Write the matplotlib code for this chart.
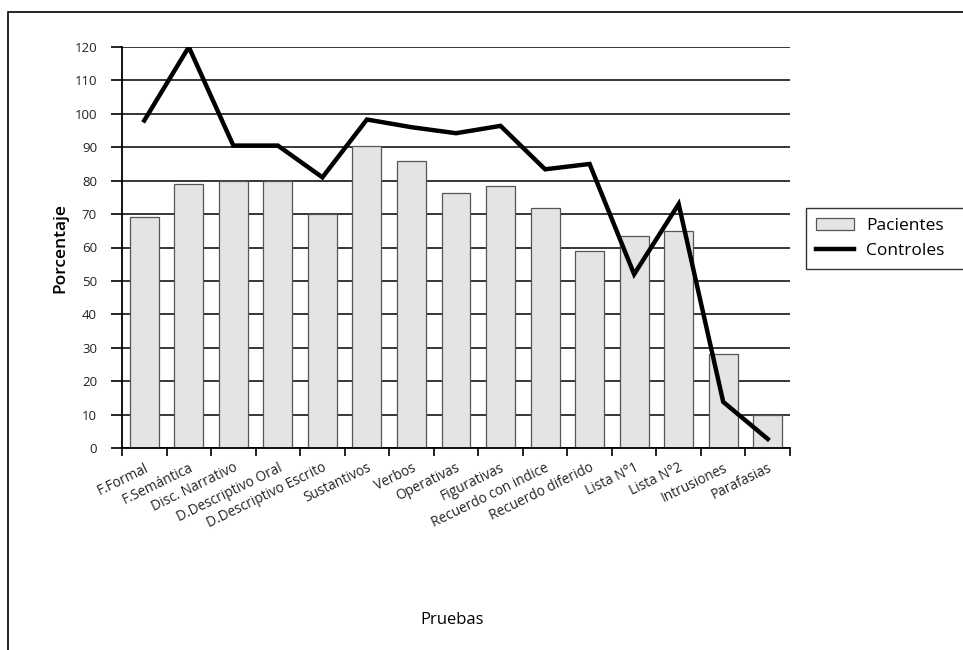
import numpy as np
import matplotlib.pyplot as plt
from matplotlib.patches import Rectangle

plt.rcParams['font.family'] = ['Open Sans', 'DejaVu Sans']

# Test names and scores (%)
pruebas = ["F.Formal", "F.Semántica", "Disc. Narrativo", "D.Descriptivo Oral",
           "D.Descriptivo Escrito", "Sustantivos", "Verbos", "Operativas",
           "Figurativas", "Recuerdo con indice", "Recuerdo diferido",
           "Lista N°1", "Lista N°2", "Intrusiones", "Parafasias"]
pacientes = [69, 79, 80, 80, 70, 90.5, 86, 76.3, 78.5, 71.7, 59, 63.5, 65, 28, 10]
controles = [98, 120, 90.5, 90.5, 81, 98.3, 96, 94.2, 96.4, 83.4, 85, 52, 73, 13.8, 2.7]
yticks = list(range(0, 121, 10))

fig = plt.figure(figsize=(9.63, 6.5), dpi=100)
ax = fig.add_axes([122 / 963, 1 - 448 / 650, (790 - 122) / 963, (448 - 47) / 650])

x = np.arange(len(pruebas))
bars = ax.bar(x, pacientes, width=0.65, color='#e4e4e4', edgecolor='#555555',
              linewidth=0.9, zorder=2, label='Pacientes')
line, = ax.plot(x, controles, color='black', linewidth=3.2, zorder=3,
                solid_joinstyle='miter', label='Controles')

ax.set_xlim(-0.5, len(pruebas) - 0.5)
ax.set_ylim(0, 120)
ax.set_yticks(yticks)
ax.yaxis.grid(True, color='black', linewidth=1.1, zorder=0)
ax.set_axisbelow(True)

# ticks at category boundaries, labels at centres
ax.set_xticks(np.arange(len(pruebas) + 1) - 0.5)
ax.set_xticklabels([])
ax.set_xticks(x, minor=True)
ax.set_xticklabels(pruebas, minor=True, rotation=26, ha='right',
                   rotation_mode='anchor', fontsize=9.8, color='#222222')
ax.tick_params(axis='x', which='minor', length=0, pad=9)
ax.tick_params(axis='x', which='major', length=6, width=1.2, direction='out')
ax.tick_params(axis='y', length=8, width=1.2, direction='out', labelsize=9.5,
               labelcolor='#222222', pad=10)

for side in ['top', 'right']:
    ax.spines[side].set_visible(False)
for side in ['left', 'bottom']:
    ax.spines[side].set_linewidth(1.3)

fig.text(60 / 963, 1 - 248 / 650, "Porcentaje", rotation=90, ha='center',
         va='center', fontsize=12.5, fontweight='semibold')
fig.text(452 / 963, 1 - 620 / 650, "Pruebas", ha='center', va='center',
         fontsize=12)

# legend box runs off the right edge of the page
leg = fig.legend(handles=[bars, line], labels=['Pacientes', 'Controles'],
                 loc='upper left', mode='expand',
                 bbox_to_anchor=(806 / 963, 1 - 278 / 650, 0.3, 70 / 650),
                 fancybox=False, edgecolor='black', fontsize=12.5,
                 handlelength=2.2, handletextpad=0.7, borderpad=0.55,
                 labelspacing=0.55, borderaxespad=0)
leg.get_frame().set_linewidth(1.0)

# outer frame around the whole figure
fig.patches.append(Rectangle((8 / 963, -0.05), 1.05, 1 - 12 / 650 + 0.05,
                             transform=fig.transFigure, fill=False,
                             edgecolor='black', linewidth=1.2))

fig.savefig('out.png', dpi=100)
